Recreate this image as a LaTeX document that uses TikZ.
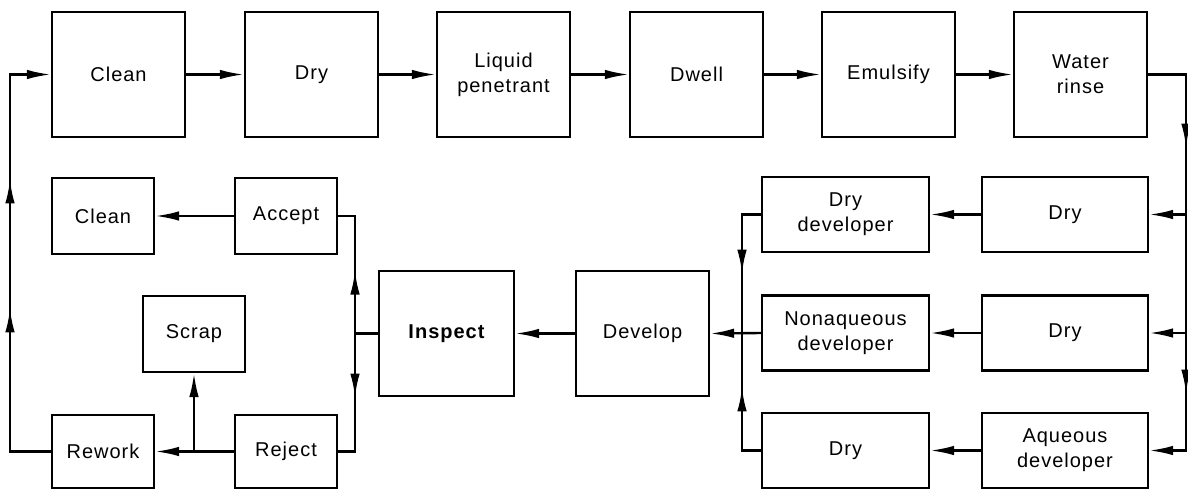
\documentclass[tikz,border=0pt]{standalone}
\usepackage{fontspec}
\setmainfont{Liberation Sans}[LetterSpace=5]
\usetikzlibrary{arrows.meta,decorations.markings}
\begin{document}
\begin{tikzpicture}[x=1pt,y=-1pt,
  line width=2.4pt,
  >={Latex[length=24pt,width=9.5pt]},
  box/.style={draw, line width=2.2pt, align=center, inner sep=0pt,
    font=\fontsize{20}{25}\selectfont},
  big/.style={box, minimum width=133pt, minimum height=125pt},
  small/.style={box, minimum width=102pt, minimum height=76pt},
  wide/.style={box, minimum width=167pt, minimum height=75pt},
  tipat/.style={postaction={decorate,
    decoration={markings, mark=at position #1 with {\arrow{>}}}}},
]
\useasboundingbox (0,0) rectangle (1188,490);

% main process line
\node[big] (clean1) at (118.5,74.5) {Clean};
\node[big] (dry1)   at (311.5,74.5) {Dry};
\node[big] (liquid) at (503.5,74.5) {Liquid\\penetrant};
\node[big] (dwell)  at (696.5,74.5) {Dwell};
\node[big] (emul)   at (888.5,74.5) {Emulsify};
\node[big] (rinse)  at (1080.5,74.5) {Water\\rinse};

% developer branches
\node[wide, minimum width=166pt] (dryA)    at (1065,214.5) {Dry};
\node[wide, minimum width=166pt] (dryB)    at (1065,333)   {Dry};
\node[wide, minimum width=166pt] (aqueous) at (1065,450.5) {Aqueous\\developer};
\node[wide] (drydev) at (845.5,214.5) {Dry\\developer};
\node[wide] (nonaq)  at (845.5,333)   {Nonaqueous\\developer};
\node[wide] (dry3)   at (845.5,450.5) {Dry};

% inspection
\node[big] (develop) at (642.5,333.5) {Develop};
\node[big, minimum width=135pt, font=\fontsize{20}{25}\selectfont\bfseries]
  (inspect) at (446.5,333.5) {Inspect};

% disposition
\node[small] (accept) at (286,216) {Accept};
\node[small] (clean2) at (103,216) {Clean};
\node[small] (scrap)  at (194,334) {Scrap};
\node[small, minimum height=73pt] (reject) at (286,451.5) {Reject};
\node[small, minimum height=73pt] (rework) at (103,451.5) {Rework};

% bus lines and junctions
\coordinate (lbus) at (10,0);
\coordinate (rbus) at (1186,0);
\coordinate (ij) at (355,333.5);
\coordinate (dj) at (742,333);
\coordinate (sj) at (scrap.south |- reject.west);

% top row
\draw[->] (clean1) -- (dry1);
\draw[->] (dry1) -- (liquid);
\draw[->] (liquid) -- (dwell);
\draw[->] (dwell) -- (emul);
\draw[->] (emul) -- (rinse);

% rinse to the three developer paths
\draw[->, tipat=111pt, tipat=357pt] (rinse.east) -- (rinse.east -| rbus)
  -- (aqueous.east -| rbus) -- (aqueous.east);
\draw[->] (dryA.east -| rbus) -- (dryA.east);
\draw[->] (dryB.east -| rbus) -- (dryB.east);
\draw[->] (dryA) -- (drydev);
\draw[->] (dryB) -- (nonaq);
\draw[->] (aqueous) -- (dry3);

% developers merge into develop
\draw[tipat=78pt] (drydev.west) -| (dj);
\draw[tipat=82pt] (dry3.west) -| (dj);
\draw[->] (nonaq.west) -- (develop.east);
\draw[->] (develop) -- (inspect);

% inspect to accept / reject
\draw (inspect.west) -- (ij);
\draw[tipat=63pt] (ij) |- (accept.east);
\draw[tipat=64pt] (ij) |- (reject.east);
\draw[->] (accept) -- (clean2);
\draw[->] (reject) -- (rework);
\draw[->] (sj) -- (scrap.south);

% rework loops back to the start
\draw[->, tipat=184pt, tipat=313pt] (rework.west) -- (rework.west -| lbus)
  -- (clean1.west -| lbus) -- (clean1.west);
\end{tikzpicture}
\end{document}
